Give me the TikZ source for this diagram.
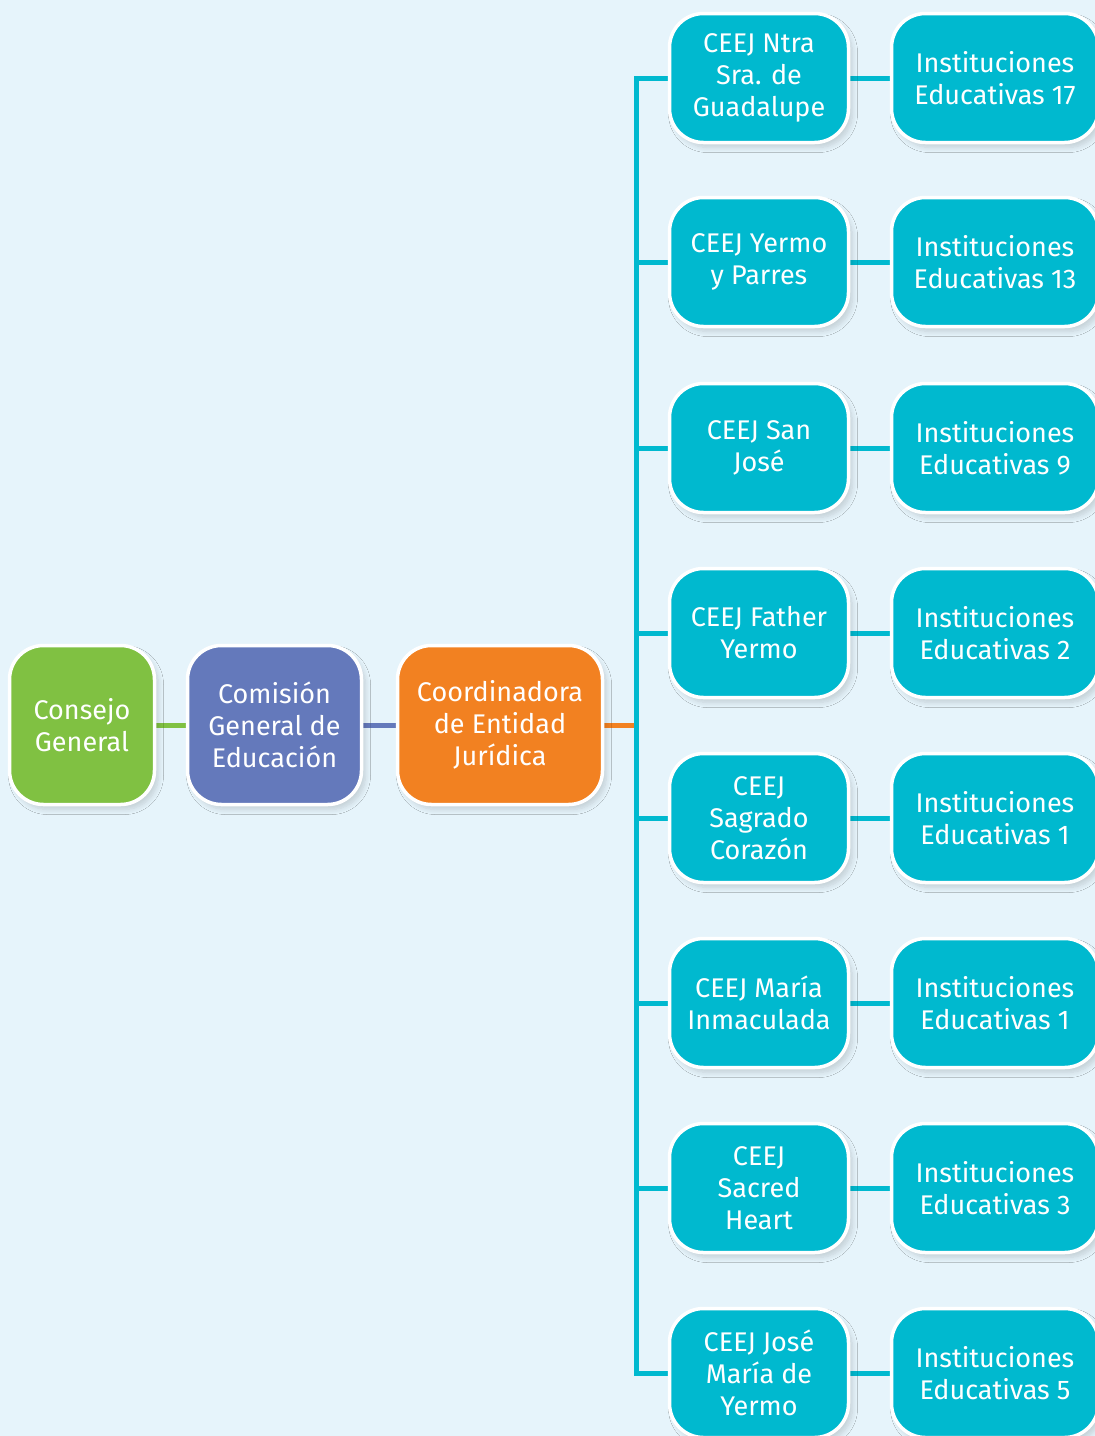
\documentclass[tikz,border=0pt]{standalone}
\usepackage{fontspec}
\setmainfont{Fira Sans}
\usetikzlibrary{shadows.blur,backgrounds}
\definecolor{bgc}{HTML}{E6F4FB}
\definecolor{ceejc}{HTML}{00B9CF}
\definecolor{greenc}{HTML}{80C142}
\definecolor{bluec}{HTML}{6479BB}
\definecolor{orangec}{HTML}{F28121}
\begin{document}
\begin{tikzpicture}[x=1pt,y=-1pt,
  box/.style={draw=white, line width=3.5pt, rounded corners=34pt, text=white, align=center,
    font=\fontsize{27}{32}\selectfont, inner sep=0pt,
    blur shadow={shadow xshift=4pt, shadow yshift=-5pt, shadow blur steps=10, shadow blur radius=5pt, shadow opacity=15}},
  leftbox/.style={box, minimum height=159pt},
  ceej/.style={box, fill=ceejc, minimum width=179pt, minimum height=129pt},
  inst/.style={box, fill=ceejc, minimum width=207pt, minimum height=129pt},
  link/.style={line width=5pt}]
\useasboundingbox (0,0) rectangle (1095,1436);
\clip (0,0) rectangle (1095,1436);
\node[leftbox, fill=greenc, minimum width=145pt] (cg) at (82,725) {Consejo\\General};
\node[leftbox, fill=bluec, minimum width=174pt] (cm) at (274.5,725) {Comisión\\General de\\Educación};
\node[leftbox, fill=orangec, minimum width=205pt] (co) at (500,725) {Coordinadora\\de Entidad\\Jurídica};
\node[ceej] (c1) at (759,78) {CEEJ Ntra\\Sra. de\\Guadalupe};
\node[ceej] (c2) at (759,262) {CEEJ Yermo\\y Parres};
\node[ceej] (c3) at (759,448) {CEEJ San\\José};
\node[ceej] (c4) at (759,633) {CEEJ Father\\Yermo};
\node[ceej] (c5) at (759,818) {CEEJ\\Sagrado\\Corazón};
\node[ceej] (c6) at (759,1003) {CEEJ María\\Inmaculada};
\node[ceej] (c7) at (759,1188) {CEEJ\\Sacred\\Heart};
\node[ceej] (c8) at (759,1373) {CEEJ José\\María de\\Yermo};
\node[inst] (i1) at (995,78) {Instituciones\\Educativas 17};
\node[inst] (i2) at (995,262) {Instituciones\\Educativas 13};
\node[inst] (i3) at (995,448) {Instituciones\\Educativas 9};
\node[inst] (i4) at (995,633) {Instituciones\\Educativas 2};
\node[inst] (i5) at (995,818) {Instituciones\\Educativas 1};
\node[inst] (i6) at (995,1003) {Instituciones\\Educativas 1};
\node[inst] (i7) at (995,1188) {Instituciones\\Educativas 3};
\node[inst] (i8) at (995,1373) {Instituciones\\Educativas 5};
\coordinate (bt) at (636,78);
\coordinate (bb) at (636,1373);
\coordinate (hub) at (636,725);
\begin{scope}[on background layer]
\fill[bgc] (0,0) rectangle (1095,1436);
\draw[link, greenc] (cg.east) -- (cm.west);
\draw[link, bluec] (cm.east) -- (co.west);
\draw[link, orangec] (co.east) -- (hub);
\draw[link, ceejc] (c1.west) -- (bt) -- (bb) -- (c8.west);
\foreach \i in {2,...,7} {\draw[link, ceejc] (c\i.west -| bt) -- (c\i.west);}
\foreach \i in {1,...,8} {\draw[link, ceejc] (c\i.east) -- (i\i.west);}
\end{scope}
\end{tikzpicture}
\end{document}
